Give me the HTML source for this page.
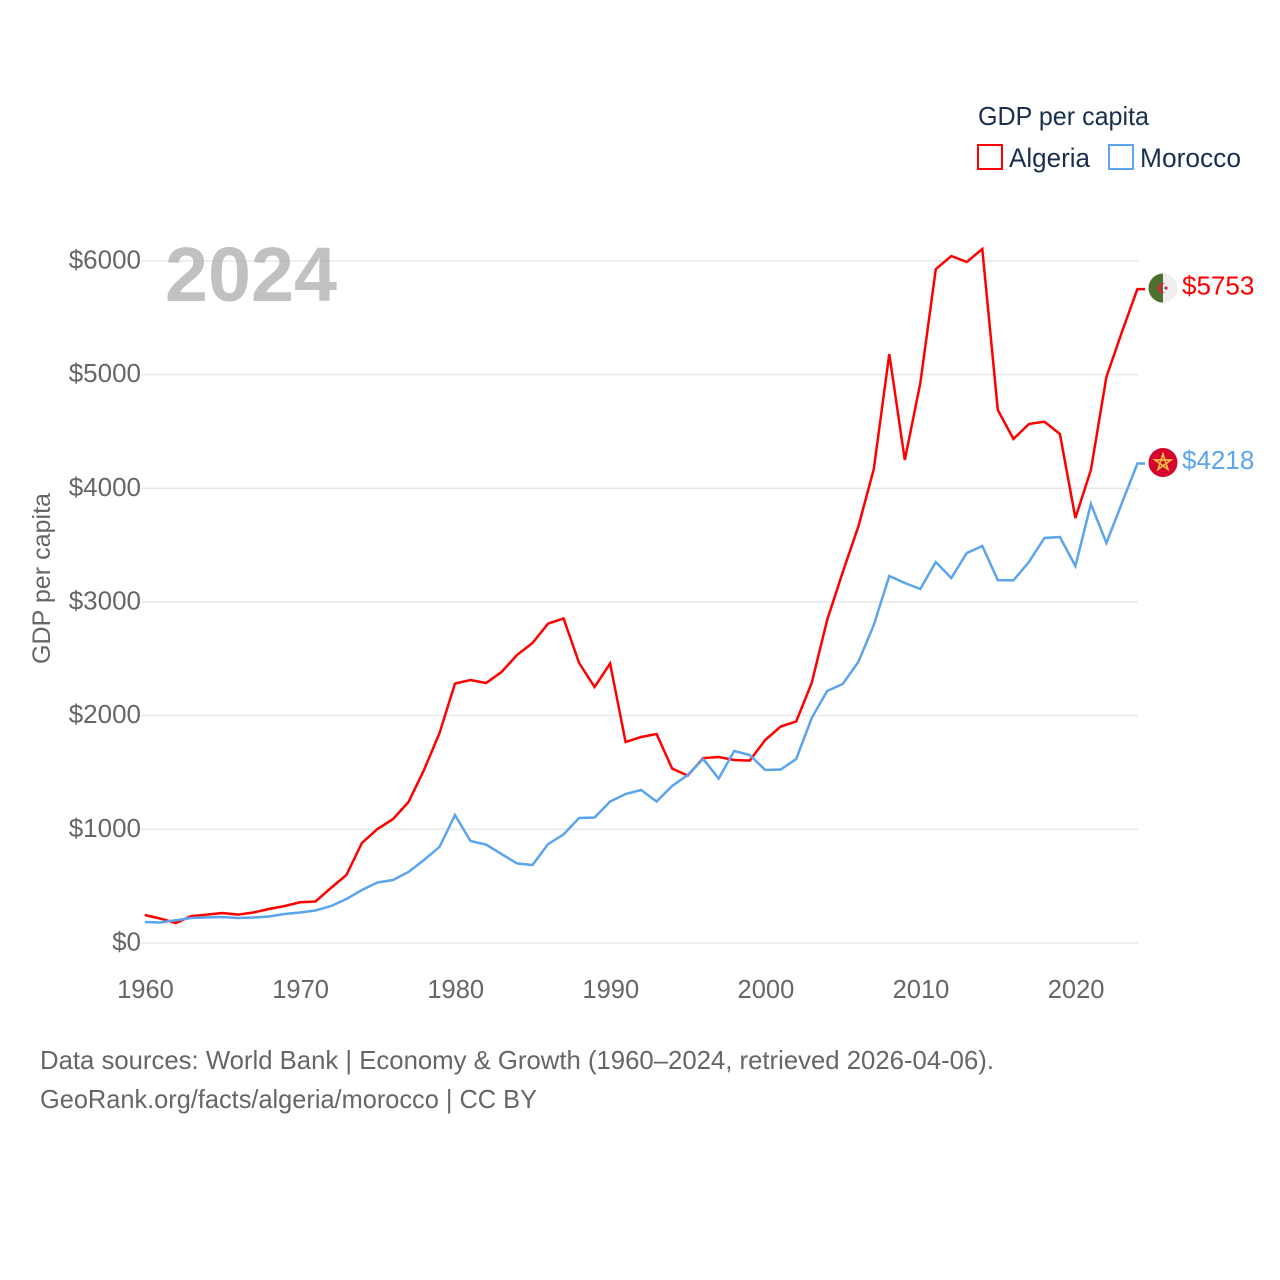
<!DOCTYPE html>
<html lang="en">
<head>
<meta charset="utf-8">
<title>GDP per capita: Algeria and Morocco</title>
<style>
html,body{margin:0;padding:0;background:#fff;width:1280px;height:1280px;overflow:hidden}
svg{display:block}
text{font-family:"Liberation Sans",sans-serif}
</style>
</head>
<body>
<svg id="chart" xmlns="http://www.w3.org/2000/svg" width="1280" height="1280" viewBox="0 0 1280 1280">
  <rect width="1280" height="1280" fill="#fff"/>
  <g id="grid"></g>
  <g id="yticks"></g>
  <g id="xticks"></g>
  <text x="165" y="301" font-size="77" font-weight="700" fill="#a6a6a6" fill-opacity="0.7" textLength="172" lengthAdjust="spacingAndGlyphs">2024</text>
  <text transform="translate(50,664) rotate(-90)" font-size="25" fill="#666" textLength="171" lengthAdjust="spacingAndGlyphs">GDP per capita</text>
  <g id="series"></g>

  <g>
    <text x="978" y="125" font-size="26" fill="#1a2f50" textLength="171" lengthAdjust="spacingAndGlyphs">GDP per capita</text>
    <rect x="978" y="145" width="24" height="24" fill="none" stroke="#ff0000" stroke-width="2"/>
    <text x="1009" y="167" font-size="27" fill="#1a2f50" textLength="81" lengthAdjust="spacingAndGlyphs">Algeria</text>
    <rect x="1109" y="145" width="24" height="24" fill="none" stroke="#5ba4ee" stroke-width="2"/>
    <text x="1140" y="167" font-size="27" fill="#1a2f50" textLength="101" lengthAdjust="spacingAndGlyphs">Morocco</text>
  </g>

  <g id="flag-algeria"></g>
  <g id="flag-morocco"></g>
  <g id="end-labels"></g>

  <text x="40" y="1069" font-size="26" fill="#666" textLength="954" lengthAdjust="spacingAndGlyphs">Data sources: World Bank | Economy &amp; Growth (1960–2024, retrieved 2026-04-06).</text>
  <text x="40" y="1108" font-size="26" fill="#666" textLength="497" lengthAdjust="spacingAndGlyphs">GeoRank.org/facts/algeria/morocco | CC BY</text>
</svg>
<script>
const startYear = 1960;
const xTickYears = [1960, 1970, 1980, 1990, 2000, 2010, 2020];
const yTickValues = [0, 1000, 2000, 3000, 4000, 5000, 6000];
const algeriaValues = [246,215,176,237,250,264,250,268,299,325,358,365,484,598,880,1003,1090,1240,1522,1847,2283,2314,2287,2384,2534,2639,2810,2855,2463,2252,2459,1768,1812,1839,1535,1473,1627,1636,1610,1605,1786,1905,1949,2287,2842,3264,3662,4170,5182,4249,4925,5929,6044,5991,6105,4689,4434,4566,4586,4478,3739,4161,4979,5375,5753];
const moroccoValues = [185,180,200,220,225,229,220,224,233,255,268,286,325,387,466,532,554,625,730,845,1126,897,866,783,700,686,871,955,1100,1104,1245,1311,1346,1245,1381,1478,1619,1447,1689,1654,1522,1526,1619,1979,2217,2279,2472,2798,3229,3167,3114,3352,3211,3431,3493,3193,3190,3352,3563,3572,3317,3862,3519,3870,4218];

const NS = 'http://www.w3.org/2000/svg';
function xScale(year){ return 144.8 + (year - 1960) * 15.51; }
function yScale(v){ return 943 - v * 0.11367; }
function make(tag, attrs, parent, text){
  const el = document.createElementNS(NS, tag);
  for (const k in attrs) el.setAttribute(k, attrs[k]);
  if (text !== undefined) el.textContent = text;
  parent.appendChild(el);
  return el;
}
const grid = document.getElementById('grid');
const yticks = document.getElementById('yticks');
const xticks = document.getElementById('xticks');
const series = document.getElementById('series');
const endLabels = document.getElementById('end-labels');

yTickValues.forEach(function(v){
  const line = make('line', {x1:141, x2:1138, y1:yScale(v), y2:yScale(v), stroke:'#e9e9e9', 'stroke-width':1.5}, grid);
  
  
  const label = make('text', {x:141, y:yScale(v)+7.5, 'text-anchor':'end', 'font-size':26, fill:'#666'}, yticks, '$' + v);
  
  
});
xTickYears.forEach(function(y){
  const label = make('text', {x:xScale(y)+0.7, y:998, 'text-anchor':'middle', 'font-size':25.5, fill:'#666'}, xticks, String(y));
  
  
});

function drawSeries(values, color, name){
  const pts = values.map(function(v, i){ return xScale(startYear + i).toFixed(1) + ',' + yScale(v).toFixed(1); });
  const lastV = values[values.length - 1];
  pts.push('1145,' + yScale(lastV).toFixed(1));
  const line = make('polyline', {points:pts.join(' '), fill:'none', stroke:color, 'stroke-width':2.5, 'stroke-linejoin':'miter'}, series);
  
  
  const label = make('text', {x:1182, y:yScale(lastV)+5.5, 'font-size':26, fill:color}, endLabels, '$' + lastV);
  
  
}
drawSeries(algeriaValues, '#ff0000', 'algeria');
drawSeries(moroccoValues, '#5ba4ee', 'morocco');

const flagX = 1163;
const aY = yScale(algeriaValues[algeriaValues.length - 1]) - 1;
const mY = yScale(moroccoValues[moroccoValues.length - 1]) - 1;
const fa = document.getElementById('flag-algeria');
make('circle', {cx:flagX, cy:aY, r:14.5, fill:'#efefef'}, fa);
make('path', {d:'M'+flagX+' '+(aY-14.5)+'A14.5 14.5 0 0 0 '+flagX+' '+(aY+14.5)+'Z', fill:'#4f6f2f'}, fa);
make('path', {d:'M'+(flagX+2)+' '+(aY-4.5)+'A5 5 0 1 0 '+(flagX+2)+' '+(aY+4.5)+'A4 4 0 1 1 '+(flagX+2)+' '+(aY-4.5)+'Z', fill:'#d8203a'}, fa);
make('circle', {cx:flagX+3, cy:aY, r:1.6, fill:'#d8203a'}, fa);
const fm = document.getElementById('flag-morocco');
make('circle', {cx:flagX, cy:mY, r:14.5, fill:'#d4042d'}, fm);
const starPts = [0,2,4,1,3].map(function(k){
  const a = -Math.PI/2 + k*2*Math.PI/5;
  return (flagX + 8.5*Math.cos(a)).toFixed(1) + ',' + (mY + 8.5*Math.sin(a)).toFixed(1);
}).join(' ');
make('polygon', {points:starPts, fill:'none', stroke:'#f6c141', 'stroke-width':1.6, 'stroke-linejoin':'miter'}, fm);
</script>
</body>
</html>
